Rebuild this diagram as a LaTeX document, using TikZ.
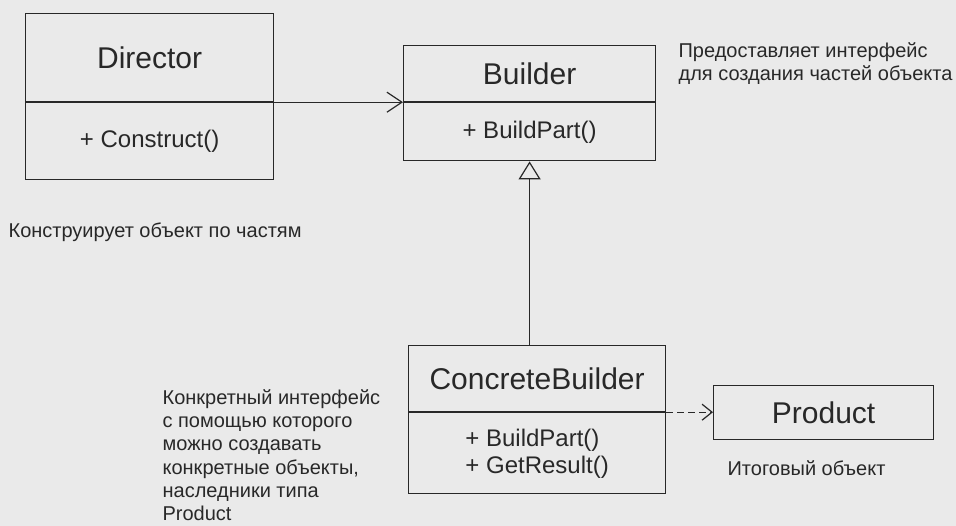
\documentclass[tikz,border=0pt]{standalone}
\usepackage{fontspec}
\setmainfont{Liberation Sans}
\usetikzlibrary{positioning,arrows.meta}
\definecolor{paper}{RGB}{234,234,234}
\definecolor{ink}{RGB}{40,40,40}
\begin{document}
\begin{tikzpicture}[x=1pt, y=-1pt, line width=1.2pt, ink,
    head/.style={draw, inner sep=0pt, font=\fontsize{30}{30}\selectfont},
    ops/.style={draw, inner sep=0pt, align=left, font=\fontsize{24}{27}\selectfont},
    note/.style={inner sep=0pt, anchor=west, align=left, font=\fontsize{20}{23.2}\selectfont},
    uses/.style={-{Straight Barb[length=15pt,width=20pt]}},
    creates/.style={dash pattern=on 7pt off 4pt, -{Straight Barb[length=10pt,width=16pt]}},
    inherits/.style={-{Triangle[open,length=18pt,width=22pt,fill=paper]}}]
    \fill[paper] (0,0) rectangle (956,526);
    \useasboundingbox (0,0) rectangle (956,526);

    % classes: name part on top, operations below it
    \node[head, minimum width=248pt, minimum height=88pt, anchor=north west] (dir) at (25,13) {Director};
    \node[ops, minimum width=248pt, minimum height=77pt, below=0pt of dir] (dir-ops) {+ Construct()};

    \node[head, minimum width=252pt, minimum height=56pt, anchor=north west] (bld) at (403,45) {Builder};
    \node[ops, minimum width=252pt, minimum height=58pt, below=0pt of bld] (bld-ops) {+ BuildPart()};

    \node[head, minimum width=257pt, minimum height=66pt, anchor=north west] (cb) at (408,345) {ConcreteBuilder};
    \node[ops, minimum width=257pt, minimum height=81pt, below=0pt of cb] (cb-ops) {+ BuildPart()\\+ GetResult()};

    \node[head, minimum width=220pt, minimum height=54pt, anchor=north west] (prod) at (713,385) {Product};

    \draw[uses]     (dir.south east) -- (bld.south west);
    \draw[inherits] (cb.north -| bld-ops.south) -- (bld-ops.south);
    \draw[creates]  (cb.south east) -- (cb.south east -| prod.west);

    % comments beside the classes
    \node[note, anchor=north west] (bld-note) at (678,42) {Предоставляет интерфейс\\для создания частей объекта};
    \node[note] (dir-note) at (8,232) {Конструирует объект по частям};
    \node[note, anchor=north west] (cb-note) at (162,389) {Конкретный интерфейс\\с помощью которого\\можно создавать\\конкретные объекты,\\наследники типа\\Product};
    \node[note] (prod-note) at (727,468) {Итоговый объект};
\end{tikzpicture}
\end{document}
